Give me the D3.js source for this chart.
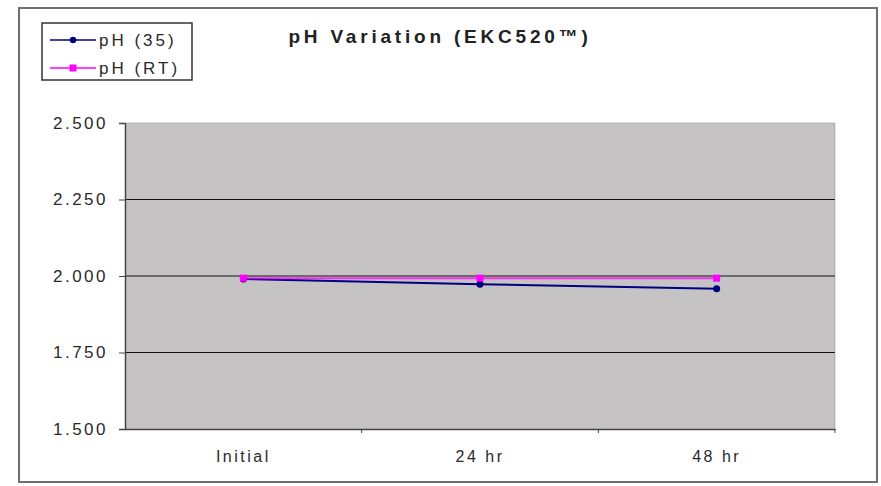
<!DOCTYPE html>
<html><head><meta charset="utf-8">
<script src="https://cdn.jsdelivr.net/npm/d3@7"></script>
<style>body{margin:0;background:#fff}svg{display:block}text{font-family:Arial,"Liberation Sans",sans-serif}</style>
</head><body><svg id="c" width="881" height="486"></svg>
<script>
const categories = ["Initial", "24 hr", "48 hr"];
const seriesNames = ["pH (35)", "pH (RT)"];
const ph35 = [1.99, 1.973, 1.958];
const phRT = [1.993, 1.993, 1.993];
const yTicks = [1.5, 1.75, 2.0, 2.25, 2.5];
const colors = ["#000080", "#ff00ff"];

const svg = d3.select("#c");
svg.append("rect").attr("x", 19).attr("y", 8).attr("width", 858).attr("height", 474)
  .attr("fill", "#fff").attr("stroke", "#6f6f6f").attr("stroke-width", 2);

const L = 125, R = 835, T = 123, B = 429;
const x = d3.scaleBand().domain(categories).range([L, R]);
const y = d3.scaleLinear().domain([1.5, 2.5]).range([B, T]);

svg.append("rect").attr("x", L).attr("y", T).attr("width", R - L).attr("height", B - T)
  .attr("fill", "#c6c3c4");

// gridlines
svg.append("g").selectAll("line").data(yTicks.slice(1, -1)).join("line")
  .attr("x1", L).attr("x2", R).attr("y1", d => y(d)).attr("y2", d => y(d))
  .attr("stroke", "#111").attr("stroke-width", 1.2);

const yAxis = d3.axisLeft(y).tickValues(yTicks).tickFormat(d3.format(".3f")).tickSize(6).tickPadding(11);
const gy = svg.append("g").attr("transform", `translate(${L},0)`).call(yAxis);
gy.select(".domain").attr("stroke", "#444").attr("stroke-width", 1.5);
gy.selectAll(".tick line").attr("stroke", "#444");
gy.selectAll("text").attr("font-size", 17).attr("fill", "#2a2a2a").attr("letter-spacing", "2.5px");

const xAxis = d3.axisBottom(x).tickSize(0).tickPadding(22);
const gx = svg.append("g").attr("transform", `translate(0,${B})`).call(xAxis);
gx.select(".domain").attr("stroke", "#444").attr("stroke-width", 1.5);
gx.selectAll("text").attr("font-size", 16).attr("fill", "#2a2a2a").attr("letter-spacing", "2.5px");
// category separators ticks
svg.append("g").selectAll("line").data(categories).join("line")
  .attr("x1", d => x(d) + x.bandwidth()).attr("x2", d => x(d) + x.bandwidth())
  .attr("y1", B).attr("y2", B + 4).attr("stroke", "#444");
svg.append("line").attr("x1", L).attr("x2", R).attr("y1", T).attr("y2", T).attr("stroke", "#888").attr("stroke-width", 0.5);
svg.append("line").attr("x1", R).attr("x2", R).attr("y1", T).attr("y2", B).attr("stroke", "#888").attr("stroke-width", 0.5);

const cx = d => x(d) + x.bandwidth() / 2;
const line = d3.line().x((d, i) => cx(categories[i])).y(d => y(d));
[ph35, phRT].forEach((s, k) => {
  svg.append("path").datum(s).attr("d", line).attr("fill", "none")
    .attr("stroke", colors[k]).attr("stroke-width", 2).attr("opacity", k === 1 ? 0.75 : 1);
});
// markers
svg.append("g").selectAll("circle").data(ph35).join("circle")
  .attr("cx", (d, i) => cx(categories[i])).attr("cy", d => y(d)).attr("r", 3.5).attr("fill", colors[0]);
svg.append("g").selectAll("rect").data(phRT).join("rect")
  .attr("x", (d, i) => cx(categories[i]) - 3.5).attr("y", d => y(d) - 3.5)
  .attr("width", 7).attr("height", 7).attr("fill", colors[1]);

// title
svg.append("text").attr("x", 440).attr("y", 43).attr("text-anchor", "middle")
  .attr("font-size", 19).attr("font-weight", "bold").attr("fill", "#222").attr("letter-spacing", "3.8px")
  .text("pH Variation (EKC520™)");

// legend
const lg = svg.append("g");
lg.append("rect").attr("x", 42).attr("y", 23).attr("width", 150).attr("height", 57)
  .attr("fill", "#fff").attr("stroke", "#333").attr("stroke-width", 1.5);
seriesNames.forEach((n, k) => {
  const yy = 40 + k * 28;
  lg.append("line").attr("x1", 50).attr("x2", 96).attr("y1", yy).attr("y2", yy)
    .attr("stroke", colors[k]).attr("stroke-width", 1.5);
  if (k === 0) lg.append("circle").attr("cx", 73).attr("cy", yy).attr("r", 3.2).attr("fill", colors[k]);
  else lg.append("rect").attr("x", 69.5).attr("y", yy - 3.5).attr("width", 7).attr("height", 7).attr("fill", colors[k]);
  lg.append("text").attr("x", 99).attr("y", yy + 6).attr("font-size", 17).attr("fill", "#2a2a2a")
    .attr("letter-spacing", "3px").text(n);
});
</script></body></html>
